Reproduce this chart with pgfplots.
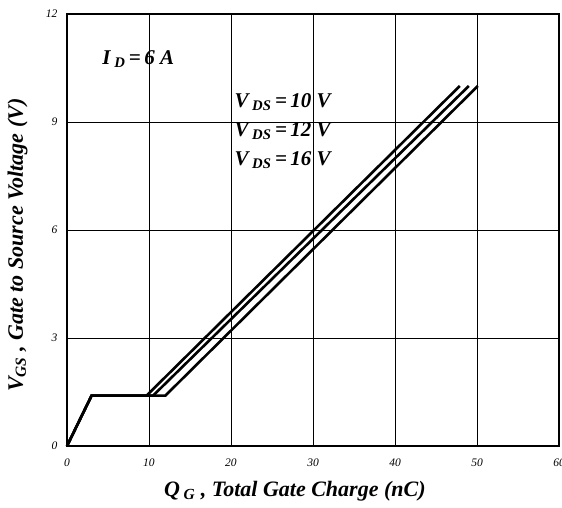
\documentclass[border=0pt]{standalone}
\usepackage{pgfplots}
\pgfplotsset{compat=1.18}
\usepackage{fontspec}
\setmainfont{Liberation Serif}
\begin{document}
\begin{tikzpicture}
\useasboundingbox (0,0) rectangle (562pt,508pt);
\begin{axis}[
  at={(67pt,62pt)}, anchor=south west,
  scale only axis, width=492pt, height=432pt,
  xmin=0, xmax=60, ymin=0, ymax=12,
  xtick={0,10,...,60}, ytick={0,3,...,12},
  major tick length=0pt,
  grid=major,
  grid style={black, line width=0.8pt},
  axis line style={line width=2.8pt},
  /pgf/number format/assume math mode=true,
  ticklabel style={font=\itshape\fontsize{11.5}{13}\selectfont},
  xticklabel style={yshift=-9pt},
  yticklabel style={xshift=-6pt},
  xlabel={\bfseries\itshape Q\textsubscript{ G} , Total Gate Charge (nC)},
  ylabel={\bfseries\itshape V\textsubscript{GS} , Gate to Source Voltage (V)},
  xlabel style={font=\fontsize{22}{24}\selectfont, at={(axis description cs:0.463,0)}, anchor=north, yshift=-32pt},
  ylabel style={font=\fontsize{22}{24}\selectfont, at={(axis description cs:0,0.465)}, anchor=south, yshift=36pt},
  clip=false,
]
\addplot[black, line width=2.6pt, line join=miter] coordinates {(0,0) (3,1.4) (9.7,1.4) (47.9,10)};
\addplot[black, line width=2.6pt, line join=miter] coordinates {(0,0) (3,1.4) (10.5,1.4) (49.0,10)};
\addplot[black, line width=2.6pt, line join=miter] coordinates {(0,0) (3,1.4) (12.0,1.4) (50.1,10)};
\node[font=\bfseries\itshape\fontsize{21}{24}\selectfont] at (axis cs:8.7,10.75) {I\textsubscript{ D}\,=\,6 A};
\node[font=\bfseries\itshape\fontsize{21}{24}\selectfont] at (axis cs:26.3,9.55) {V\textsubscript{ DS}\,=\,10 V};
\node[font=\bfseries\itshape\fontsize{21}{24}\selectfont] at (axis cs:26.3,8.75) {V\textsubscript{ DS}\,=\,12 V};
\node[font=\bfseries\itshape\fontsize{21}{24}\selectfont] at (axis cs:26.3,7.95) {V\textsubscript{ DS}\,=\,16 V};
\end{axis}
\end{tikzpicture}
\end{document}
